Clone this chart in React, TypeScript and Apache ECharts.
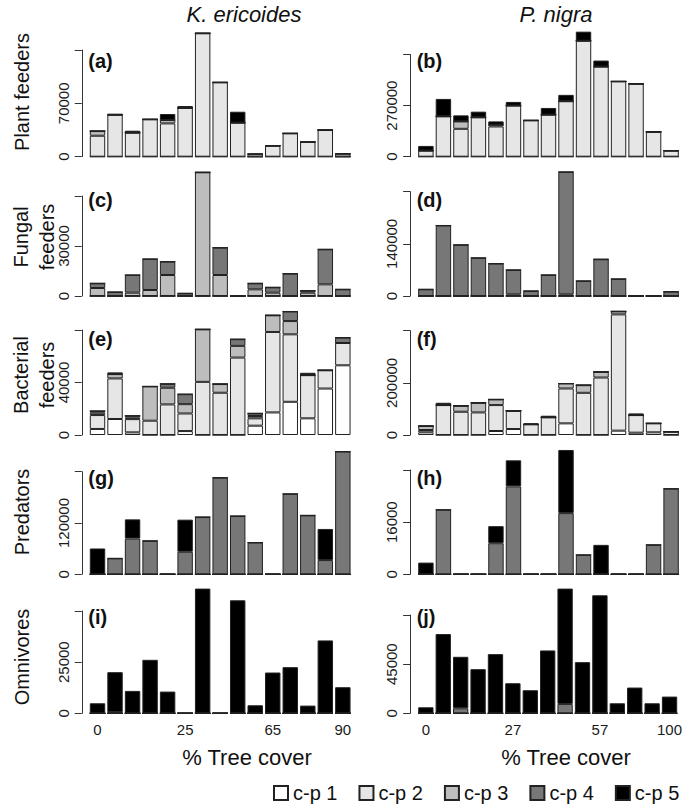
import React, { useEffect, useRef } from "react";
import * as echarts from "echarts";

const FONT = '"Liberation Sans", Arial, Helvetica, sans-serif';

const sites = ["1", "2", "3", "4", "5", "6", "7", "8", "9", "10", "11", "12", "13", "14", "15"];
const classes = ["c-p 1", "c-p 2", "c-p 3", "c-p 4", "c-p 5"];
const classColors = ["#ffffff", "#e6e6e6", "#bdbdbd", "#777777", "#000000"];

const Z = [0, 0, 0, 0, 0, 0, 0, 0, 0, 0, 0, 0, 0, 0, 0];

// (a) Plant feeders, K. ericoides  [c-p1..c-p5]
const plantK = [
  Z,
  [27500, 55000, 31500, 49000, 43700, 63900, 161900, 97500, 44600, 0, 14400, 30600, 19300, 35000, 0],
  [6100, 0, 0, 0, 4400, 0, 0, 0, 0, 3500, 0, 0, 0, 0, 3900],
  Z,
  [0, 1200, 2600, 0, 7900, 2600, 0, 0, 14400, 0, 0, 0, 0, 0, 0],
];
// (b) Plant feeders, P. nigra
const plantP = [
  Z,
  [32000, 213000, 147400, 207800, 159800, 270000, 191800, 222000, 293000, 612700, 476000, 397800, 385400, 131400, 32000],
  [0, 0, 39000, 0, 8900, 0, 0, 0, 0, 0, 0, 0, 0, 0, 0],
  Z,
  [24900, 92300, 32000, 30200, 17800, 19500, 0, 35500, 33700, 48000, 32000, 0, 0, 0, 0],
];
// (c) Fungal feeders, K. ericoides
const fungalK = [
  Z,
  Z,
  [4800, 0, 2000, 3600, 12600, 0, 74200, 12600, 0, 4000, 2000, 0, 2000, 7000, 0],
  [2800, 2400, 10600, 18600, 8000, 1600, 0, 16400, 0, 3600, 3200, 13400, 1200, 21000, 4000],
  Z,
];
// (d) Fungal feeders, P. nigra
const fungalP = [
  Z,
  Z,
  [0, 0, 0, 0, 0, 4500, 0, 0, 4500, 0, 0, 0, 0, 0, 0],
  [17900, 189300, 137300, 102300, 87000, 65500, 13500, 56500, 328500, 40400, 98700, 45800, 0, 0, 11700],
  Z,
];
// (e) Bacterial feeders, K. ericoides
const bactK = [
  [4600, 12200, 2000, 0, 0, 3000, 0, 0, 0, 7100, 17200, 25300, 12700, 35400, 53100],
  [10600, 30900, 10100, 10900, 23300, 13400, 40500, 32200, 59000, 5600, 61300, 51400, 32900, 13900, 17000],
  [1800, 3300, 1300, 26100, 12700, 7100, 40000, 6600, 8900, 1800, 12700, 10100, 0, 0, 0],
  [1300, 0, 1300, 0, 3000, 7600, 0, 0, 5100, 2000, 0, 7300, 0, 0, 4100],
  [0, 1300, 0, 0, 0, 0, 0, 0, 0, 0, 0, 0, 1800, 0, 0],
];
// (f) Bacterial feeders, P. nigra
const bactP = [
  [10200, 0, 0, 0, 15300, 22900, 0, 0, 44600, 0, 0, 16600, 8900, 10200, 0],
  [8900, 114700, 89200, 86600, 99400, 70000, 40800, 67500, 133800, 161800, 220400, 445900, 67500, 34400, 12700],
  [15300, 0, 22900, 36900, 21700, 0, 0, 0, 19100, 29300, 21700, 11500, 0, 0, 0],
  Z,
  [0, 8900, 0, 0, 0, 0, 3800, 6400, 0, 0, 0, 0, 6400, 0, 0],
];
// (g) Predators, K. ericoides
const predK = [
  Z,
  Z,
  Z,
  [0, 37200, 83600, 78200, 0, 52700, 133900, 226000, 136300, 74300, 0, 188100, 137800, 33300, 287200],
  [60400, 0, 44900, 0, 0, 75100, 0, 0, 0, 0, 0, 0, 0, 72800, 0],
];
// (h) Predators, P. nigra
const predP = [
  Z,
  Z,
  Z,
  [0, 19800, 0, 0, 9540, 26970, 0, 0, 18770, 5950, 0, 0, 0, 9030, 26260],
  [3590, 0, 0, 0, 5230, 8000, 0, 0, 19380, 0, 9030, 0, 0, 0, 0],
];
// (i) Omnivores, K. ericoides
const omniK = [
  Z,
  Z,
  Z,
  [0, 500, 0, 0, 0, 0, 0, 0, 0, 0, 0, 0, 0, 0, 0],
  [4900, 19600, 10950, 26140, 10620, 0, 60950, 0, 55230, 3920, 19930, 22550, 3760, 35620, 12750],
];
// (j) Omnivores, P. nigra
const omniP = [
  Z,
  Z,
  Z,
  [0, 0, 4600, 0, 0, 0, 0, 0, 8570, 0, 0, 0, 0, 0, 0],
  [5510, 72550, 47130, 40400, 54180, 27550, 21120, 57550, 105600, 46830, 108050, 9180, 23570, 9180, 15300],
];

// y tick values per panel
const yTicksA = [0, 70000, 140000];
const yTicksB = [0, 270000, 540000];
const yTicksC = [0, 30000, 60000];
const yTicksD = [0, 140000, 280000];
const yTicksE = [0, 40000, 80000];
const yTicksF = [0, 200000, 400000];
const yTicksG = [0, 120000, 240000];
const yTicksH = [0, 16000, 32000];
const yTicksI = [0, 25000, 50000];
const yTicksJ = [0, 45000, 90000];

// x tick labels (bottom row)
const xTickIdx = [0, 5, 10, 14];
const xTickK = ["0", "25", "65", "90"];
const xTickP = ["0", "27", "57", "100"];

const rowNames = ["Plant feeders", "Fungal\nfeeders", "Bacterial\nfeeders", "Predators", "Omnivores"];
const colTitles = ["K. ericoides", "P. nigra"];
const panelLetters = ["(a)", "(b)", "(c)", "(d)", "(e)", "(f)", "(g)", "(h)", "(i)", "(j)"];

// layout (pixels)
const rowBase = [156.7, 296, 435, 574.3, 713.3];
const colLeft = [88.75, 417.15];
const colRight = [333.4, 5.15];
const axisOffset = 7;

const panels = [
  { data: plantK, ticks: yTicksA, row: 0, col: 0, topPx: 50.0 },
  { data: plantP, ticks: yTicksB, row: 0, col: 1, topPx: 54.5 },
  { data: fungalK, ticks: yTicksC, row: 1, col: 0, topPx: 196 },
  { data: fungalP, ticks: yTicksD, row: 1, col: 1, topPx: 191.7 },
  { data: bactK, ticks: yTicksE, row: 2, col: 0, topPx: 330 },
  { data: bactP, ticks: yTicksF, row: 2, col: 1, topPx: 330.7 },
  { data: predK, ticks: yTicksG, row: 3, col: 0, topPx: 471.7 },
  { data: predP, ticks: yTicksH, row: 3, col: 1, topPx: 470 },
  { data: omniK, ticks: yTicksI, row: 4, col: 0, topPx: 611 },
  { data: omniP, ticks: yTicksJ, row: 4, col: 1, topPx: 615 },
];

function buildOption() {
  const grid: any[] = [];
  const xAxis: any[] = [];
  const yAxis: any[] = [];
  const series: any[] = [];
  const graphic: any[] = [];

  panels.forEach((p, i) => {
    const base = rowBase[p.row];
    grid.push({
      left: colLeft[p.col],
      right: colRight[p.col],
      top: p.topPx,
      bottom: 806 - base,
      containLabel: false,
    });
    const isBottom = p.row === 4;
    const labels = p.col === 0 ? xTickK : xTickP;
    xAxis.push({
      type: "category",
      gridIndex: i,
      data: sites,
      boundaryGap: true,
      axisLine: { show: false },
      axisTick: { show: false },
      splitLine: { show: false },
      axisLabel: {
        show: isBottom,
        interval: (idx: number) => xTickIdx.indexOf(idx) >= 0,
        formatter: (_v: string, idx: number) => {
          const k = xTickIdx.indexOf(idx);
          return k >= 0 ? labels[k] : "";
        },
        fontFamily: FONT,
        fontSize: 15,
        color: "#1a1a1a",
        margin: 9,
      },
    });
    const maxV = p.ticks[p.ticks.length - 1];
    yAxis.push({
      type: "value",
      gridIndex: i,
      min: p.ticks[0],
      max: maxV,
      interval: p.ticks[1] - p.ticks[0],
      offset: axisOffset,
      axisLine: { show: true, lineStyle: { color: "#333", width: 1 } },
      axisTick: { show: true, length: 7, lineStyle: { color: "#333", width: 1 } },
      splitLine: { show: false },
      axisLabel: {
        rotate: 90,
        fontFamily: FONT,
        fontSize: 15,
        color: "#1a1a1a",
        margin: 11,
        formatter: (v: number) => (v === maxV ? "" : String(v)),
      },
    });
    p.data.forEach((vals, k) => {
      series.push({
        type: "bar",
        name: classes[k],
        xAxisIndex: i,
        yAxisIndex: i,
        stack: "s" + i,
        data: vals,
        clip: false,
        silent: true,
        barCategoryGap: "12%",
        itemStyle: { color: classColors[k], borderColor: "#222", borderWidth: 1 },
        emphasis: { disabled: true },
      });
    });
    // panel letter
    graphic.push({
      type: "text",
      x: colLeft[p.col] - 0.5,
      y: base - 96,
      style: {
        text: panelLetters[i],
        fontFamily: FONT,
        fontSize: 20,
        fontWeight: "bold",
        fill: "#111",
        align: "left",
        verticalAlign: "middle",
      },
    });
  });

  const rowTitleY = [92, 237, 375, 512, 657];
  rowNames.forEach((name, r) => {
    const twoLine = name.indexOf("\n") >= 0;
    graphic.push({
      type: "text",
      x: twoLine ? 33.5 : 22,
      y: rowTitleY[r],
      rotation: Math.PI / 2,
      style: {
        text: name,
        fontFamily: FONT,
        fontSize: 20,
        lineHeight: 26,
        fill: "#111",
        align: "center",
        verticalAlign: "middle",
      },
    });
  });

  const titleX = [244, 556];
  colTitles.forEach((t, c) => {
    graphic.push({
      type: "text",
      x: titleX[c],
      y: 14,
      style: {
        text: t,
        fontFamily: FONT,
        fontSize: 22,
        fontStyle: "italic",
        fill: "#111",
        align: "center",
        verticalAlign: "middle",
      },
    });
  });
  const xTitleX = [247, 566];
  xTitleX.forEach((x) => {
    graphic.push({
      type: "text",
      x,
      y: 757,
      style: {
        text: "% Tree cover",
        fontFamily: FONT,
        fontSize: 22,
        fill: "#111",
        align: "center",
        verticalAlign: "middle",
      },
    });
  });

  return {
    animation: false,
    backgroundColor: "#ffffff",
    grid,
    xAxis,
    yAxis,
    series,
    graphic,
    legend: {
      data: classes,
      left: 273,
      top: 783,
      padding: 0,
      itemWidth: 14,
      itemHeight: 14,
      itemGap: 21,
      icon: "rect",
      selectedMode: false,
      textStyle: { fontFamily: FONT, fontSize: 20, lineHeight: 20, color: "#111" },
    },
  };
}

export default function App() {
  const ref = useRef<HTMLDivElement>(null);
  useEffect(() => {
    document.body.style.margin = "0";
    if (!ref.current) return;
    const chart = echarts.init(ref.current, undefined, { renderer: "svg" });
    chart.setOption(buildOption() as any);
    return () => chart.dispose();
  }, []);
  return <div ref={ref} style={{ width: 685, height: 806 }} />;
}
